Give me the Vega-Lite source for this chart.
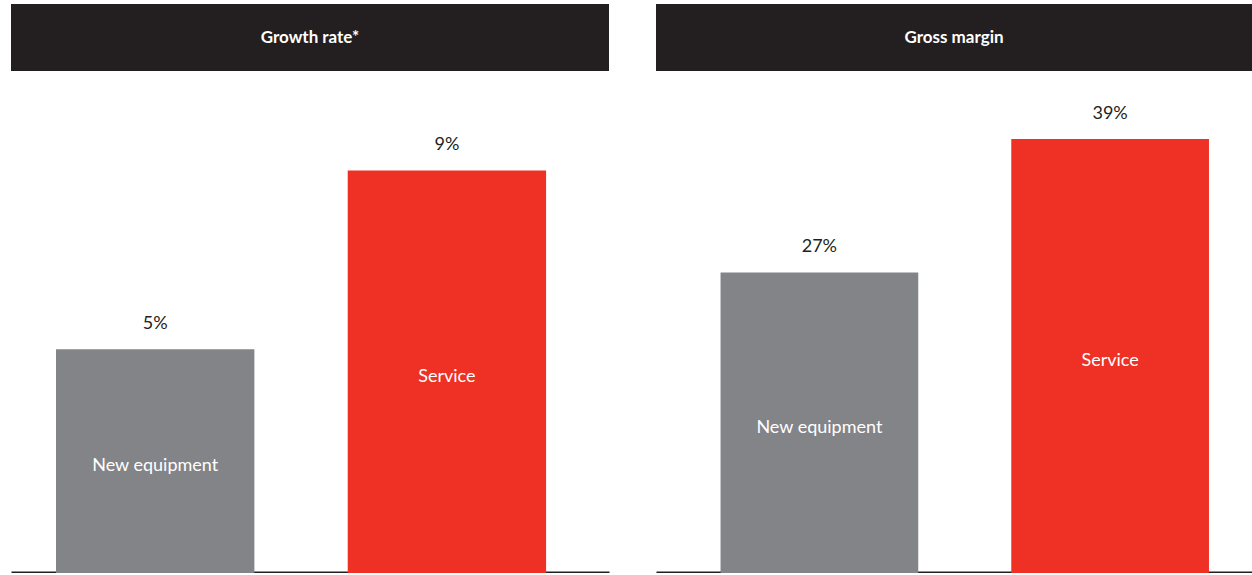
{
  "$schema": "https://vega.github.io/schema/vega-lite/v6.json",
  "description": "Growth rate and gross margin, new equipment vs service.",
  "padding": {"left": 11, "top": 4, "right": 0, "bottom": 0},
  "background": "white",
  "config": {
    "font": "Lato",
    "view": {"stroke": null}
  },
  "hconcat": [
    {
      "vconcat": [
        {
          "width": 598,
          "height": 67,
          "view": {"fill": "#231f20", "stroke": null},
          "data": {"values": [{"panel": "Growth rate*"}]},
          "mark": {"type": "text", "color": "white", "fontSize": 17, "fontWeight": "bold"},
          "encoding": {"text": {"field": "panel"}}
        },
        {
          "width": 598,
          "height": 492,
          "data": {
            "values": [
              {"segment": "New equipment", "value": 0.05},
              {"segment": "Service", "value": 0.09}
            ]
          },
          "encoding": {
            "x": {
              "field": "segment",
              "type": "nominal",
              "sort": null,
              "scale": {"paddingInner": 0.32, "paddingOuter": 0.185, "align": 0.417},
              "axis": {"labels": false, "ticks": false, "title": null, "domainColor": "#231f20", "domainWidth": 4}
            }
          },
          "layer": [
            {
              "mark": {"type": "bar"},
              "encoding": {
                "y": {"field": "value", "type": "quantitative", "scale": {"domain": [0, 0.11], "nice": false}, "axis": null},
                "color": {
                  "field": "segment",
                  "type": "nominal",
                  "scale": {"domain": ["New equipment", "Service"], "range": ["#838488", "#ee3124"]},
                  "legend": null
                }
              }
            },
            {
              "mark": {"type": "text", "fontSize": 18, "color": "#231f20", "baseline": "middle", "dy": -25},
              "encoding": {
                "y": {"field": "value", "type": "quantitative"},
                "text": {"field": "value", "type": "quantitative", "format": ".0%"}
              }
            },
            {
              "transform": [{"calculate": "datum.value / 2", "as": "mid"}],
              "mark": {"type": "text", "fontSize": 18, "color": "white", "baseline": "middle", "dy": 5},
              "encoding": {
                "y": {"field": "mid", "type": "quantitative"},
                "text": {"field": "segment"}
              }
            }
          ]
        }
      ],
      "spacing": 10
    },
    {
      "vconcat": [
        {
          "width": 596,
          "height": 67,
          "view": {"fill": "#231f20", "stroke": null},
          "data": {"values": [{"panel": "Gross margin"}]},
          "mark": {"type": "text", "color": "white", "fontSize": 17, "fontWeight": "bold"},
          "encoding": {"text": {"field": "panel"}}
        },
        {
          "width": 596,
          "height": 492,
          "data": {
            "values": [
              {"segment": "New equipment", "value": 0.27},
              {"segment": "Service", "value": 0.39}
            ]
          },
          "encoding": {
            "x": {
              "field": "segment",
              "type": "nominal",
              "sort": null,
              "scale": {"paddingInner": 0.32, "paddingOuter": 0.185, "align": 0.6},
              "axis": {"labels": false, "ticks": false, "title": null, "domainColor": "#231f20", "domainWidth": 4}
            }
          },
          "layer": [
            {
              "mark": {"type": "bar"},
              "encoding": {
                "y": {"field": "value", "type": "quantitative", "scale": {"domain": [0, 0.442], "nice": false}, "axis": null},
                "color": {
                  "field": "segment",
                  "type": "nominal",
                  "scale": {"domain": ["New equipment", "Service"], "range": ["#838488", "#ee3124"]},
                  "legend": null
                }
              }
            },
            {
              "mark": {"type": "text", "fontSize": 18, "color": "#231f20", "baseline": "middle", "dy": -25},
              "encoding": {
                "y": {"field": "value", "type": "quantitative"},
                "text": {"field": "value", "type": "quantitative", "format": ".0%"}
              }
            },
            {
              "transform": [{"calculate": "datum.value / 2", "as": "mid"}],
              "mark": {"type": "text", "fontSize": 18, "color": "white", "baseline": "middle", "dy": 5},
              "encoding": {
                "y": {"field": "mid", "type": "quantitative"},
                "text": {"field": "segment"}
              }
            }
          ]
        }
      ],
      "spacing": 10
    }
  ],
  "spacing": 47
}
